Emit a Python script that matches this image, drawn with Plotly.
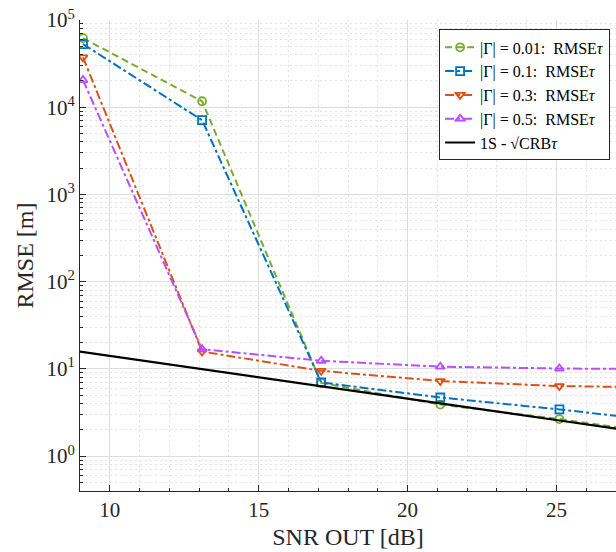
import plotly.graph_objects as go

# ---- data ----
snr = [9.1, 13.1, 17.1, 21.1, 25.1, 29.1]
rmse_g001 = [62000, 11700, 6.9, 3.9, 2.66, 1.7]
rmse_g01 = [53000, 7100, 7.0, 4.7, 3.43, 2.4]
rmse_g03 = [37300, 15.8, 9.5, 7.25, 6.35, 6.1]
rmse_g05 = [20500, 16.8, 12.4, 10.6, 10.1, 9.9]
snr_crb = [9.0, 13.1, 17.1, 21.1, 25.1, 29.1]
crb = [15.8, 9.9, 6.3, 4.0, 2.56, 1.63]

y_tickvals = [1, 10, 100, 1000, 10000, 100000]
y_ticktext = ["10<sup>0</sup>", "10<sup>1</sup>", "10<sup>2</sup>",
              "10<sup>3</sup>", "10<sup>4</sup>", "10<sup>5</sup>"]

names = ["|Γ| = 0.01:  RMSE<i>τ</i>", "|Γ| = 0.1:  RMSE<i>τ</i>",
         "|Γ| = 0.3:  RMSE<i>τ</i>", "|Γ| = 0.5:  RMSE<i>τ</i>"]
series = [rmse_g001, rmse_g01, rmse_g03, rmse_g05]
colors = ["#77AC30", "#0072BD", "#D95319", "#B94EFF"]
symbols = ["circle-open", "square-open", "triangle-down-open", "triangle-up-open"]
dashes = ["7px,4px", "dashdot", "dashdot", "dashdot"]

FONT = "Liberation Serif"

fig = go.Figure()
for n, y, c, s, d in zip(names, series, colors, symbols, dashes):
    fig.add_trace(go.Scatter(
        x=snr, y=y, name=n, mode="lines+markers",
        line=dict(color=c, width=2, dash=d),
        marker=dict(symbol=s, size=8, color=c, line=dict(color=c, width=1.8)),
    ))
fig.add_trace(go.Scatter(
    x=snr_crb, y=crb, name="1S - √CRB<i>τ</i>", mode="lines",
    line=dict(color="black", width=2.2),
))

axis_common = dict(
    showline=True, linecolor="#262626", linewidth=1,
    ticks="inside", ticklen=6, tickcolor="#262626",
    showgrid=True, gridcolor="#dedede", gridwidth=1,
    zeroline=False,
    tickfont=dict(family=FONT, size=21, color="#262626"),
)
minor_common = dict(ticks="inside", ticklen=3, tickcolor="#262626",
                    showgrid=True, gridcolor="#e2e2e2", griddash="2px,3px")

fig.update_xaxes(
    range=[9, 27], tick0=0, dtick=5,
    minor=dict(dtick=1, **minor_common),
    title=dict(text="SNR OUT [dB]", font=dict(family=FONT, size=24, color="#262626"),
               standoff=6),
    **axis_common,
)
fig.update_yaxes(
    type="log", range=[-0.4, 5], tickvals=y_tickvals, ticktext=y_ticktext,
    minor=dict(dtick="D1", **minor_common),
    title=dict(text="RMSE [m]", font=dict(family=FONT, size=24, color="#262626"),
               standoff=6),
    **axis_common,
)

fig.update_layout(
    width=616, height=552,
    margin=dict(l=80, r=0, t=20, b=61, autoexpand=False),
    paper_bgcolor="white", plot_bgcolor="white",
    font=dict(family=FONT, color="#262626"),
    showlegend=True,
    legend=dict(
        x=0.989, xanchor="right", y=0.98, yanchor="top",
        bgcolor="white", bordercolor="#262626", borderwidth=1,
        font=dict(family=FONT, size=16, color="black"),
        tracegroupgap=0, itemwidth=30,
    ),
)

fig.write_html("out.html", config={"displayModeBar": False},
               post_script="document.body.style.margin='0px';")
